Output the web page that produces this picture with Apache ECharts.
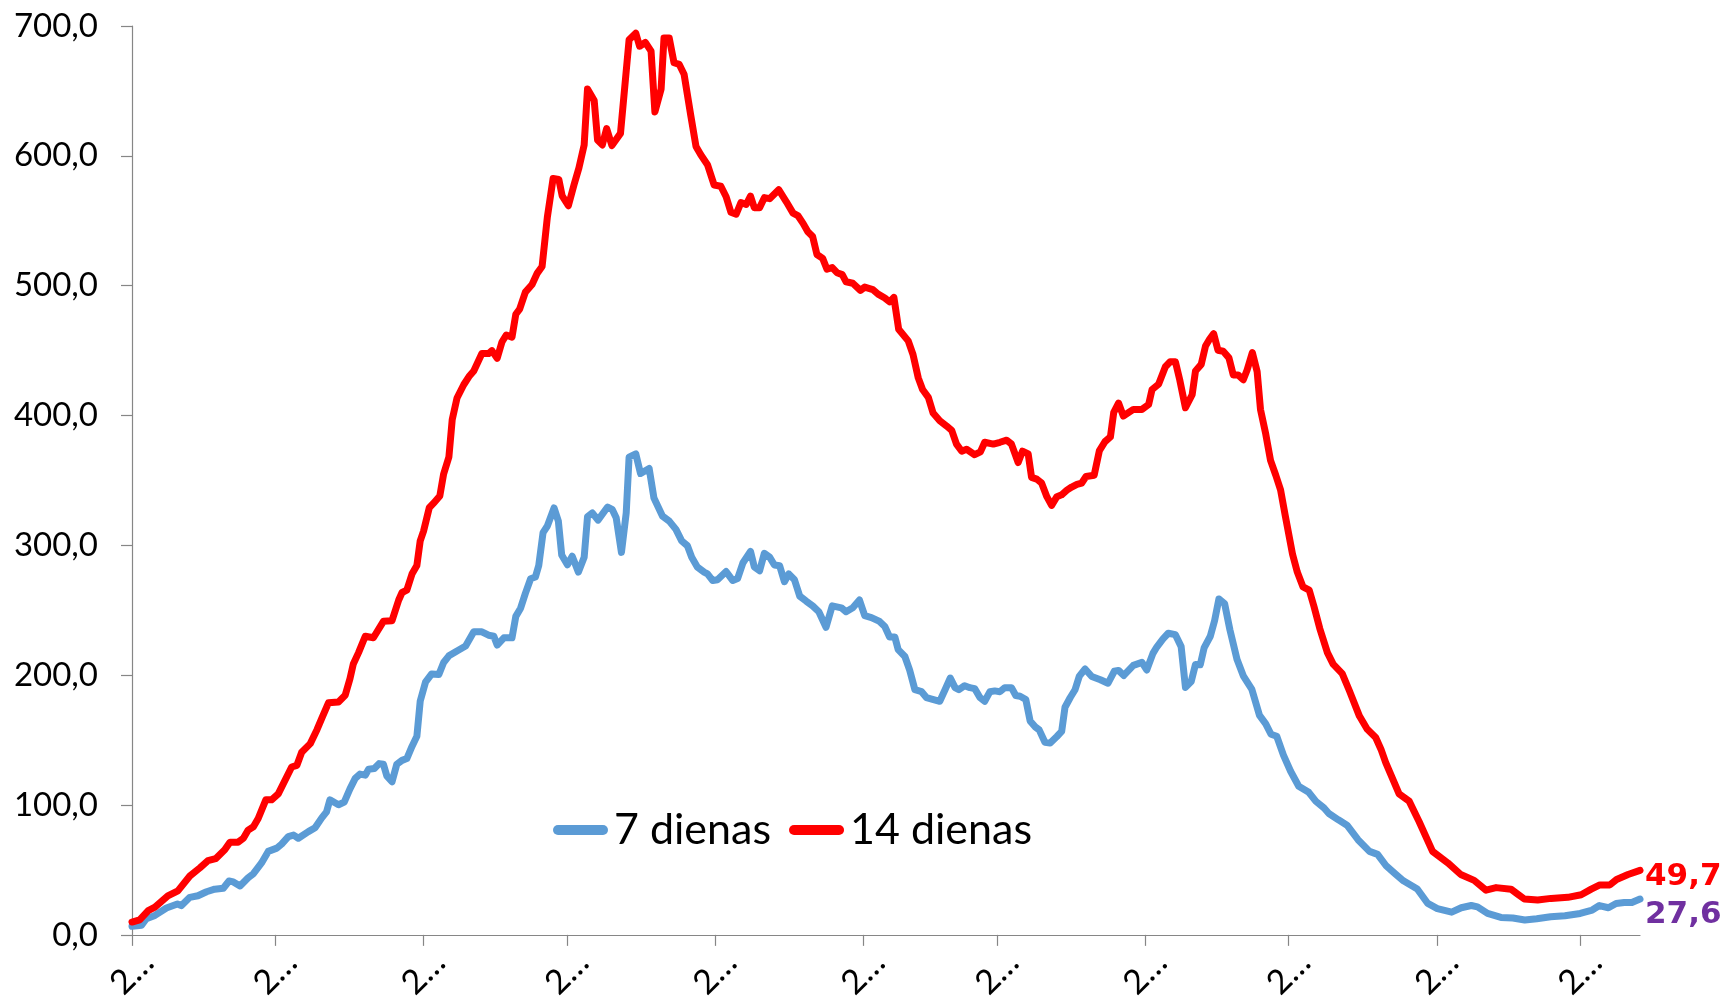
<!DOCTYPE html>
<html>
<head>
<meta charset="utf-8">
<script src="https://cdn.jsdelivr.net/npm/echarts@6/dist/echarts.min.js"></script>
<style>
html,body{margin:0;padding:0;background:#fff;}
#chart{width:1721px;height:1003px;}
</style>
</head>
<body>
<div id="chart"></div>
<script>
// ---- data (day offsets from START) ----
const START = '2020-09-01';
const seriesNames = ['7 dienas', '14 dienas'];
const monthTicks = ['2020-09-01','2020-10-01','2020-11-01','2020-12-01','2021-01-01','2021-02-01','2021-03-01','2021-04-01','2021-05-01','2021-06-01','2021-07-01'];
const xTickLabel = '2\u2026';
const yMin = 0, yMax = 700, yStep = 100;

const daysBlue = [0,2,3,4.8,7.2,9.5,10.3,12.1,13.8,15.6,17.3,19.1,20.3,21.2,22.6,24.3,25.4,27.1,28.5,30.3,31.3,32.7,33.8,34.8,36.9,38.3,39.7,40.7,41.4,43.2,44.4,45.6,46.7,47.7,48.8,49.5,50.7,51.7,52.6,53.3,54.4,55.4,56.5,57.5,58.6,59.6,60.3,61.4,62.7,64.2,65.2,66.3,68,69.8,71.5,73.2,74.6,75.7,76.4,77.8,79.5,80.3,81.3,82.3,83.4,84.4,85.1,86,86.9,88.3,89.2,89.9,91.1,92.1,93.4,94.6,95.3,96.3,97.5,99.5,100.5,101.3,102.4,103.4,104,105.4,106.4,108.2,109.2,111,112.4,113.8,115,116.2,117.1,118.3,119.7,120.4,121.5,122.5,124.3,125.7,126.7,127.8,129.4,130.2,131.3,132.3,133.4,134.4,135.5,136.5,137.4,138.6,139.7,141.1,142.4,143.7,145.2,146.5,148.4,149.4,150.8,152.2,153.3,154.7,156.4,157.5,158.5,159.6,160.3,161.7,162.7,163.8,165.2,166.2,169,170.1,171.2,172.2,173,174.2,175.3,176.3,177.4,178.4,179.5,180.5,181.6,182.6,184,184.9,185.8,187,187.9,188.9,189.8,191,192.1,193.5,194.5,195.2,196.3,197.3,198.2,199.4,200.8,202.6,204.2,205.5,206.4,207.5,209.5,211.3,212.3,213.6,214.4,215.7,216.8,218.3,219.5,220.4,221.6,222.5,223.5,224.3,225.6,226.5,227.4,228.6,229.7,231.2,232.5,234.3,235.9,237.2,238.3,239.5,240.9,242.4,244.1,246.2,247.7,249.4,250.4,252.4,254.2,256.5,258.9,260.6,262.3,264.3,266,268.9,271.1,273.1,276.1,278.1,280.2,281.5,283.6,286.4,288.9,291.4,293.9,296.8,299.8,303,305.5,307,308.9,310.5,312.2,313.8,315.5];
const valsBlue = [6.6,7.4,12.4,15,20.7,23.8,22.5,28.9,30.1,33.2,35.2,35.9,41.5,40.8,37.7,44,47.1,55.4,64.3,66.8,69.9,75.7,76.9,74.4,79.5,82.5,90.1,94.7,104,100.2,102.3,112.4,120.5,123.8,123,127.6,128.1,131.9,131.4,122.5,117.9,131.4,134.4,135.8,145.3,152.9,180,194.6,201,200.5,209.8,214.9,218.7,222.5,233.4,233.4,230.8,230,223.2,228.8,228.8,245.3,251.6,263,274.3,275.6,284.5,309.8,314.9,328.8,318.7,292.6,285,291.6,279.4,290.8,322,325,319.4,329.5,327.5,321.2,294.6,325,368,370.5,355.3,359.2,336.4,322.5,318.7,312.3,303.5,299.7,290.8,283.2,279.4,278.1,272.9,273.5,279.8,272.9,274.4,286.4,295.4,283.4,280.4,293.9,290.9,284.9,284.3,272,278,273.5,260.9,256.9,253.4,248.9,236.9,253.4,251.9,248.9,251.9,257.9,245.9,244.4,241.4,237.5,229.4,229.4,219.7,214.4,203.9,188.8,187.3,182.8,179.9,188.8,197.8,190.4,188.8,191.9,190.4,189.7,182.8,179.9,187.3,187.9,187.3,190.4,190.4,184.4,183.8,181.3,164.8,160.4,157.9,148.4,147.8,152.8,156.7,175.3,182.8,188.8,199.3,204.8,199,196.5,193.8,203,203.7,199.8,207.6,209.9,204,216.8,221.7,228,232.3,231.2,222,190.6,195.1,208.3,208,221,230,242,258.7,255,235,212,199.5,189,169,162.5,154.5,153,138.4,126,114.5,109.8,102.8,97.7,93.5,88.6,84.5,73.3,64.3,62,53.6,47,41.6,35.3,24.2,20.2,17.5,20.9,22.6,21.6,16.5,13.4,13,11.4,12.4,14,14.7,16.5,19.1,22.6,20.9,24.2,24.9,24.9,27.6];

const daysRed = [0,1.6,3.4,4.8,7.5,9.6,12.1,14.2,15.9,17.5,19.4,20.5,22.2,23.3,24.3,25.4,26.4,28,29.2,30.6,33.4,34.5,35.5,37.3,38.7,39.7,41.1,43.2,44.6,45.6,46.3,47.4,48.8,50.5,52.6,54.4,55.8,56.5,57.5,58.6,59.6,60.3,61,62.2,63.2,64.4,65.2,66.3,67,68,69.4,70.5,71.5,73.2,74.6,75.3,76.4,77.4,78.3,79.5,80.3,81.1,82.3,83.7,84.8,85.8,86.9,88.1,89.3,90,91.3,92.5,93.5,94.6,95.3,96.7,97.4,98.4,99.3,100.4,102.2,104,105.4,106.2,107.4,108.6,109.4,110.7,111.3,112.4,113.4,114.5,115.5,116.9,118,119,120.4,121.8,123.2,124.3,125.3,126.4,127.4,128.5,129.4,130.2,131.3,132.3,133.4,135.3,136.9,138.3,139.3,140.4,141.4,142.4,143.3,144.5,145.4,146.5,147.5,148.6,149.4,150.8,152.4,153.3,155,156.1,157.5,158.5,159.4,160.4,162.4,163.4,164.5,165.4,166.6,167.6,169,170.4,171.5,172.5,173.6,174.6,176.3,177.5,178.4,180.2,181.6,183,184,185.4,186.3,187.5,188.2,189.3,190.3,191.4,192.4,193.5,194.5,195.6,196.6,197.7,198.7,199.6,201.3,202.4,203.6,204.7,205.4,206.4,207.4,209.5,211.3,212.7,213.4,214.8,216.2,217.2,218.3,219.2,220.4,221.8,222.5,223.7,224.6,225.5,226.3,227.2,228.3,229.5,230.4,231.4,232.5,233.3,234.4,235.4,236.1,237.2,238.2,239.3,240.3,241.3,242.8,243.8,245,246.3,247.3,248.5,250.1,251.3,253.2,254.7,256.8,258.4,260.2,261.3,262.3,265.1,267.2,269.3,272.1,275.3,278,280.8,283.3,285.4,288.5,289.9,291.3,294.1,296.9,300.4,303.2,305.3,307.1,309.2,310.6,313,315.5];
const valsRed = [9.9,11.6,18.7,21.3,30,33.9,45.3,51.6,57.2,58.7,65.5,71.4,71.4,74.4,80.7,83.3,89.6,104,104,108.6,129.3,130.6,140.7,147.3,158,166.8,178.7,179.4,184.5,197.2,208.6,217.4,230,228.8,241.5,242,257.9,263.7,265.5,278.1,284.5,303.5,311,329,333,338,355,368,397,413.5,423.7,430,434.3,447.7,447.7,450,444,456.6,462,460.4,478,481.9,495,500.9,509.7,514.8,552.8,582.6,581.9,569.2,561.6,578,590.7,608.4,651.5,642.6,612.2,608.4,621,607.9,617.3,689.4,694.5,684.4,687.4,680.6,633.8,651.5,690.7,690.7,671.7,670.4,662.9,631.2,607.2,600.8,593.2,577.5,576.6,568.5,556.5,555,564,562.5,569,560,560,567.8,567,573.9,564.6,555.9,554,548,541.5,537.9,524,521,512.7,513.9,510,508.5,503,501.9,496.4,498.9,497,493.5,490.5,487.5,491,466.5,457.5,447,429,420,414,402,396,392,388.5,378,372.5,374,369.8,372,379.4,378,379.4,381,378,363.8,372.5,370.4,352.4,351,348,337.5,330.8,337.5,338.9,342.5,344.9,347,348,353,354,373,380,383.5,402.5,409.6,399.6,404.7,404.7,408.5,419.9,424.2,437.6,441.4,441.4,427.5,406,416,434.3,439.4,453.5,459.1,463,450.3,449.5,444.4,431.3,431.3,427.5,435,448.5,433.8,404.7,385.7,365.5,354,342.7,322.5,293.3,279.4,268,265.5,252.8,236,217.4,208.5,201.2,188,168.5,158.5,152,143,132.6,108.6,103,87.1,64.3,55.4,46.5,42,34.4,36.4,35.2,31.4,27.6,26.8,28.1,28.9,30.9,35.2,38.5,38.5,42.7,46.5,49.7];

// ---- chart ----
const DAY = 86400000;
const t0 = Date.parse(START);
const tickDays = monthTicks.map(s => Math.round((Date.parse(s) - t0) / DAY));
const pairs = (days, vals) => days.map((d, i) => [d, vals[i]]);
const fmt = v => Number(v).toFixed(1).replace('.', ',');
const lastDay = Math.max(daysRed[daysRed.length - 1], daysBlue[daysBlue.length - 1]);
const FONT = 'Lato';
const LABEL_FONT = 'DejaVu Sans';
const axisGray = '#868686';
const pill = 'path://M5,0L50,0A5,5,0,0,1,50,10L5,10A5,5,0,0,1,5,0Z';

const chart = echarts.init(document.getElementById('chart'), null, {renderer: 'canvas'});
chart.setOption({
  animation: false,
  backgroundColor: '#ffffff',
  grid: {left: 132, right: 81, top: 26, bottom: 55, containLabel: false},
  legend: {
    data: seriesNames,
    left: 548, top: 800,
    itemWidth: 57, itemHeight: 10, itemGap: 18,
    icon: pill,
    textStyle: {fontFamily: FONT, fontSize: 43, color: '#000', lineHeight: 50}
  },
  xAxis: {
    type: 'value',
    min: 0, max: lastDay,
    splitLine: {show: false},
    axisLine: {show: true, onZero: false, lineStyle: {color: axisGray, width: 1.2}},
    axisTick: {show: true, length: 11, lineStyle: {color: axisGray, width: 1.2}, customValues: tickDays},
    axisLabel: {
      customValues: tickDays,
      formatter: () => xTickLabel,
      rotate: 45, align: 'center', verticalAlign: 'middle', margin: 38,
      fontFamily: FONT, fontSize: 34, color: '#000'
    }
  },
  yAxis: {
    type: 'value',
    min: yMin, max: yMax, interval: yStep,
    splitLine: {show: false},
    axisLine: {show: true, lineStyle: {color: axisGray, width: 1.2}},
    axisTick: {show: true, inside: false, length: 11, lineStyle: {color: axisGray, width: 1.2}},
    axisLabel: {formatter: v => fmt(v), margin: 34, fontFamily: FONT, fontSize: 33, color: '#000'}
  },
  series: [
    {
      name: seriesNames[0], type: 'line', data: pairs(daysBlue, valsBlue),
      symbol: 'none', showSymbol: false, color: '#5B9BD5',
      lineStyle: {color: '#5B9BD5', width: 7, cap: 'round', join: 'round'},
      endLabel: {show: true, formatter: p => fmt(p.value[1]), color: '#7030A0', fontFamily: LABEL_FONT, fontWeight: 'bold', fontSize: 31, distance: 5, offset: [0, 16]}
    },
    {
      name: seriesNames[1], type: 'line', data: pairs(daysRed, valsRed),
      symbol: 'none', showSymbol: false, color: '#FF0000',
      lineStyle: {color: '#FF0000', width: 7, cap: 'round', join: 'round'},
      endLabel: {show: true, formatter: p => fmt(p.value[1]), color: '#FF0000', fontFamily: LABEL_FONT, fontWeight: 'bold', fontSize: 31, distance: 5, offset: [0, 7]}
    }
  ]
});
</script>
</body>
</html>
